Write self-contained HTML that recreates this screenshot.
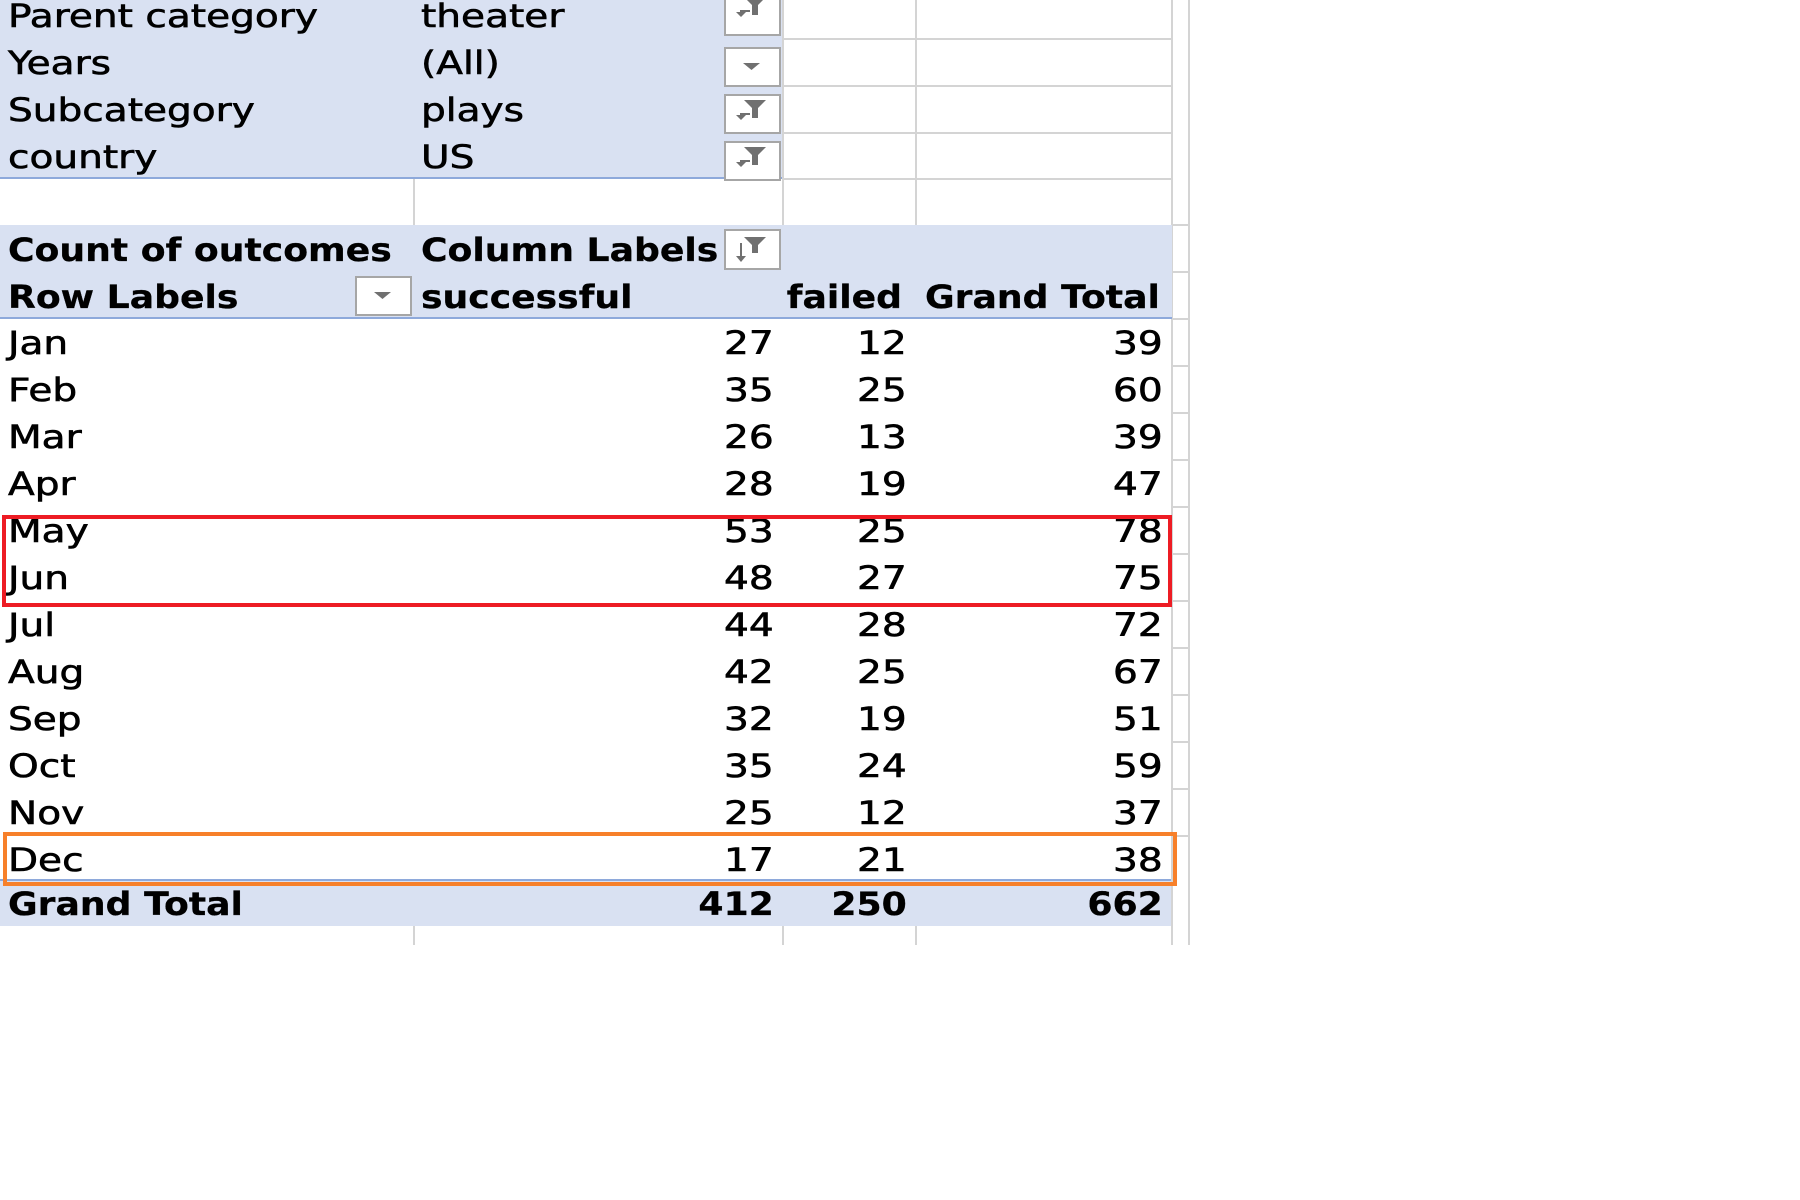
<!DOCTYPE html>
<html><head><meta charset="utf-8">
<style>
html,body{margin:0;padding:0;background:#fff;}
#sheet{position:relative;width:1800px;height:1200px;overflow:hidden;font-family:"DejaVu Sans","Liberation Sans",sans-serif;font-size:32px;color:#000;}
.abs{position:absolute;}
.t{position:absolute;white-space:nowrap;line-height:47px;height:47px;-webkit-text-stroke:0.6px #000;}
.t span{display:inline-block;transform:scaleX(1.22);transform-origin:left center;}
.r span{transform-origin:right center;}
.r{text-align:right;}
.b{font-weight:bold;-webkit-text-stroke:0.3px #000;}
.b span{transform:scaleX(1.13);}
.band{position:absolute;background:#D9E1F2;}
.hl{position:absolute;height:2px;background:#d4d4d4;}
.vl{position:absolute;width:2px;background:#d4d4d4;}
.btn{position:absolute;width:55px;height:38px;background:#fff;border:2px solid #a6a6a6;box-sizing:border-box;}
</style></head>
<body>
<div id="sheet">
  <div class="band" style="left:0;top:0;width:782px;height:178px;"></div>
  <div class="abs" style="left:0;top:177px;width:782px;height:2px;background:#8EA9DB;"></div>
  <div class="band" style="left:0;top:225px;width:1172px;height:93px;"></div>
  <div class="abs" style="left:0;top:317px;width:1172px;height:2px;background:#8EA9DB;"></div>

  <div class="abs" style="left:2px;top:515px;width:1170px;height:92px;border:4px solid #ED1C24;box-sizing:border-box;z-index:5;"></div>
  <div class="abs" style="left:3px;top:832px;width:1174px;height:54px;border:4px solid #F7802A;box-sizing:border-box;z-index:5;"></div>
</div>
<script>
const months = ["Jan","Feb","Mar","Apr","May","Jun","Jul","Aug","Sep","Oct","Nov","Dec"];
const successful = [27,35,26,28,53,48,44,42,32,35,25,17];
const failed = [12,25,13,19,25,27,28,25,19,24,12,21];
const totals = [39,60,39,47,78,75,72,67,51,59,37,38];
const grandTotals = [412,250,662];
const filterLabels = ["Parent category","Years","Subcategory","country"];
const filterValues = ["theater","(All)","plays","US"];
const filterIcons = ["filter","drop","filter","filter"];

const sheet = document.getElementById('sheet');
const ROW0 = 318, RH = 47, FTOP = -9, DY = 4;
function rowTop(i){ return ROW0 + RH*i; }

function addText(txt, x, y, opts){
  const d = document.createElement('div');
  d.className = 't' + (opts.right ? ' r' : '') + (opts.bold ? ' b' : '');
  const s = document.createElement('span');
  s.textContent = txt;
  d.appendChild(s);
  d.style.top = (y - 2 + DY) + 'px';
  if (opts.right){ d.style.right = (1800 - x) + 'px'; } else { d.style.left = x + 'px'; }
  
  
  sheet.appendChild(d);
  return d;
}
function addLine(cls, l, t, w, h, name){
  const d = document.createElement('div');
  d.className = cls;
  d.style.left = l+'px'; d.style.top = t+'px';
  if (w) d.style.width = w+'px';
  if (h) d.style.height = h+'px';
  
  
  sheet.insertBefore(d, sheet.firstChild);
  return d;
}
[38,85,132,178,225].forEach(y => addLine('hl', 782, y, 390, 0, 'gridline-h'));
[782,915].forEach(x => addLine('vl', x, 0, 0, 225, 'gridline-v'));
addLine('vl', 413, 178, 0, 47, 'gridline-v');
for (let i=0;i<=13;i++){ addLine('hl', 1172, rowTop(i)-94, 18, 0, 'gridline-h'); }
addLine('vl', 1171, 0, 0, 945, 'gridline-v');
addLine('vl', 1188, 0, 0, 945, 'gridline-v');
[413,782,915].forEach(x => addLine('vl', x, 926, 0, 19, 'gridline-v'));

function icon(kind){
  if (kind === 'drop') return '<svg width="51" height="34"><polygon points="17,14 34,14 25.5,21" fill="#707070"/></svg>';
  if (kind === 'sort') return '<svg width="51" height="34"><polygon points="18,6 40,6 32,14 32,22 26,22 26,14" fill="#707070"/><line x1="15" y1="12" x2="15" y2="28" stroke="#707070" stroke-width="2"/><polygon points="10,25 20,25 15,31" fill="#707070"/></svg>';
  return '<svg width="51" height="34"><polygon points="18,4 40,4 32,12 32,22 26,22 26,12" fill="#707070"/><polygon points="10,19 20,19 15,24" fill="#707070"/><line x1="14" y1="18" x2="24" y2="18" stroke="#707070" stroke-width="2"/></svg>';
}
function addBtn(x, y, w, h, kind, name){
  const b = document.createElement('div');
  b.className = 'btn';
  b.style.left = x+'px'; b.style.top = y+'px';
  b.style.width = w+'px'; b.style.height = h+'px';
  b.innerHTML = icon(kind);
  
  
  sheet.appendChild(b);
}

filterLabels.forEach((lab, i) => {
  const y = FTOP + RH*i;
  addText(lab, 8, y, {name:'filter-label'});
  addText(filterValues[i], 421, y, {name:'filter-value'});
  addBtn(724, y + 9 + (i===0?-9:0), 57, i===0?45:40, filterIcons[i], 'filter-dropdown');
});

addText("Count of outcomes", 8, 225, {bold:true, name:'values-header'});
addText("Column Labels", 421, 225, {bold:true, name:'column-labels-header'});
addBtn(724, 229, 57, 41, 'sort', 'column-labels-dropdown');
addText("Row Labels", 8, 272, {bold:true, name:'row-labels-header'});
addBtn(355, 276, 57, 40, 'drop', 'row-labels-dropdown');
addText("successful", 421, 272, {bold:true, name:'successful-header'});
addText("failed", 902, 272, {bold:true, right:true, name:'failed-header'});
addText("Grand Total", 1160, 272, {bold:true, right:true, name:'grand-total-header'});

months.forEach((m, i) => {
  const y = rowTop(i);
  addText(m, 8, y, {name:'month-label'});
  addText(String(successful[i]), 774, y, {right:true, name:'successful-value'});
  addText(String(failed[i]), 907, y, {right:true, name:'failed-value'});
  addText(String(totals[i]), 1163, y, {right:true, name:'total-value'});
});

const gy = rowTop(12);
const gb = document.createElement('div');
gb.className = 'band';
gb.style.left='0px'; gb.style.top=(gy-1)+'px'; gb.style.width='1172px'; gb.style.height='45px';


sheet.insertBefore(gb, sheet.firstChild);
const gl = addLine('hl', 0, gy-3, 1172, 0, 'grand-total-top-border');
gl.style.background = '#8EA9DB';
addText("Grand Total", 8, gy-3, {bold:true, name:'grand-total-label'});
addText(String(grandTotals[0]), 774, gy-3, {bold:true, right:true, name:'grand-total-successful'});
addText(String(grandTotals[1]), 907, gy-3, {bold:true, right:true, name:'grand-total-failed'});
addText(String(grandTotals[2]), 1163, gy-3, {bold:true, right:true, name:'grand-total-all'});
</script>
</body></html>
